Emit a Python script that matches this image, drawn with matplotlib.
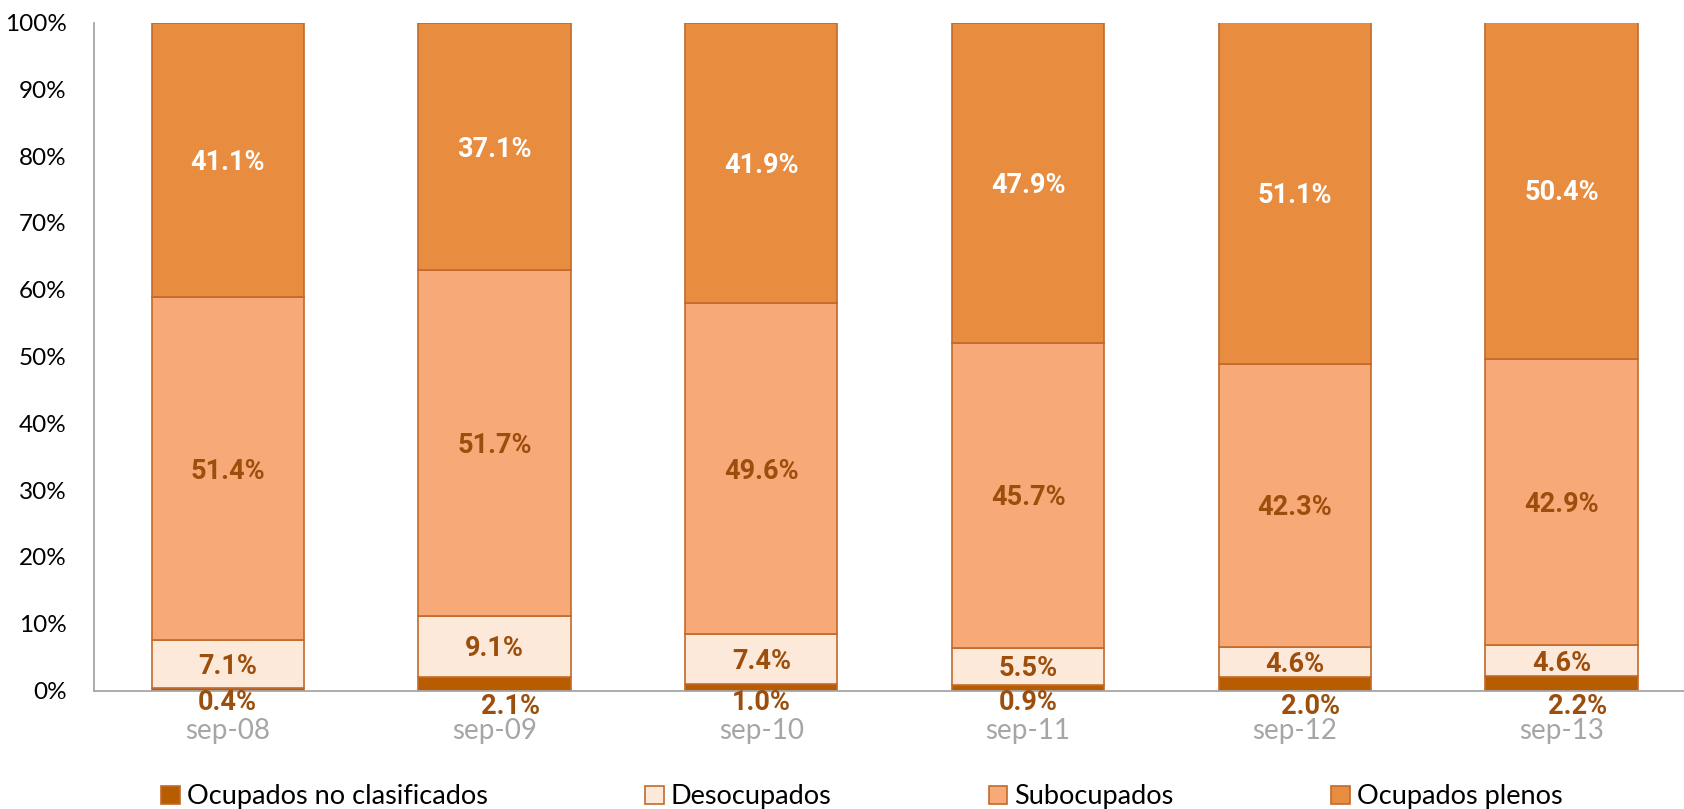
import numpy as np
import matplotlib
matplotlib.use("Agg")
import matplotlib.pyplot as plt
from matplotlib.ticker import FuncFormatter

plt.rcParams["font.family"] = ["Lato", "DejaVu Sans"]

categories = ["sep-08", "sep-09", "sep-10", "sep-11", "sep-12", "sep-13"]
no_clasificados = [0.4, 2.1, 1.0, 0.9, 2.0, 2.2]
desocupados = [7.1, 9.1, 7.4, 5.5, 4.6, 4.6]
subocupados = [51.4, 51.7, 49.6, 45.7, 42.3, 42.9]
plenos = [41.1, 37.1, 41.9, 47.9, 51.1, 50.4]

series = [
    ("Ocupados no clasificados", no_clasificados, "#B85C00"),
    ("Desocupados", desocupados, "#FDE9DA"),
    ("Subocupados", subocupados, "#F7AA78"),
    ("Ocupados plenos", plenos, "#E88C40"),
]

EDGE = "#C26A2C"
LABEL_DARK = "#9C4E0C"
AXIS_GREY = "#A6A6A6"
BOLD_FONT = ["Roboto", "DejaVu Sans"]

fig = plt.figure(figsize=(16.84, 8.09), dpi=100)
ax = fig.add_axes([94.3 / 1684, 118.4 / 809, (1695 - 94.3) / 1684, (786.5 - 118.4) / 809])

x = np.arange(len(categories))
width = 0.571
bottom = np.zeros(len(categories))

for name, vals, color in series:
    vals = np.array(vals, dtype=float)
    ax.bar(x, vals, width, bottom=bottom, color=color, edgecolor=EDGE,
           linewidth=1.2, label=name)
    for i, v in enumerate(vals):
        if name == "Ocupados no clasificados":
            # Excel pushes these tiny labels under the axis
            dx = 0.06 if v > 1.5 else 0.0
            dy = -0.6 if v > 1.5 else 0.0
            ax.annotate(f"{v:.1f}%", (x[i] + dx, dy), xytext=(0, 1),
                        textcoords="offset points", ha="center", va="top",
                        fontsize=19.5, fontweight="bold", color=LABEL_DARK,
                        family=BOLD_FONT, annotation_clip=False)
        else:
            col = "white" if name == "Ocupados plenos" else LABEL_DARK
            ax.text(x[i], bottom[i] + v / 2 - 0.4, f"{v:.1f}%", ha="center", va="center",
                    fontsize=19.5, fontweight="bold", color=col, family=BOLD_FONT)
    bottom += vals

ax.set_xlim(-0.5, 5.5)
ax.set_ylim(0, 100)
ax.set_yticks(np.arange(0, 101, 10))
ax.yaxis.set_major_formatter(FuncFormatter(lambda v, _p: f"{v:.0f}%"))
ax.tick_params(axis="y", length=0, pad=20, labelsize=17.5, labelcolor="black")
ax.set_xticks(x)
ax.set_xticklabels(categories)
ax.tick_params(axis="x", length=0, pad=20, labelsize=20, labelcolor=AXIS_GREY)

for s in ["top", "right"]:
    ax.spines[s].set_visible(False)
ax.spines["left"].set_color(AXIS_GREY)
ax.spines["bottom"].set_color(AXIS_GREY)
ax.spines["left"].set_linewidth(1.3)
ax.spines["bottom"].set_linewidth(1.3)

fig.legend(loc="lower left", ncol=4, mode="expand",
           bbox_to_anchor=(150 / 1684, -0.014, (1573 - 150) / 1684, 0.045),
           frameon=False, fontsize=19.5, handlelength=0.7, handleheight=0.7,
           handletextpad=0.25, borderaxespad=0)

fig.savefig("out.png", dpi=100)
